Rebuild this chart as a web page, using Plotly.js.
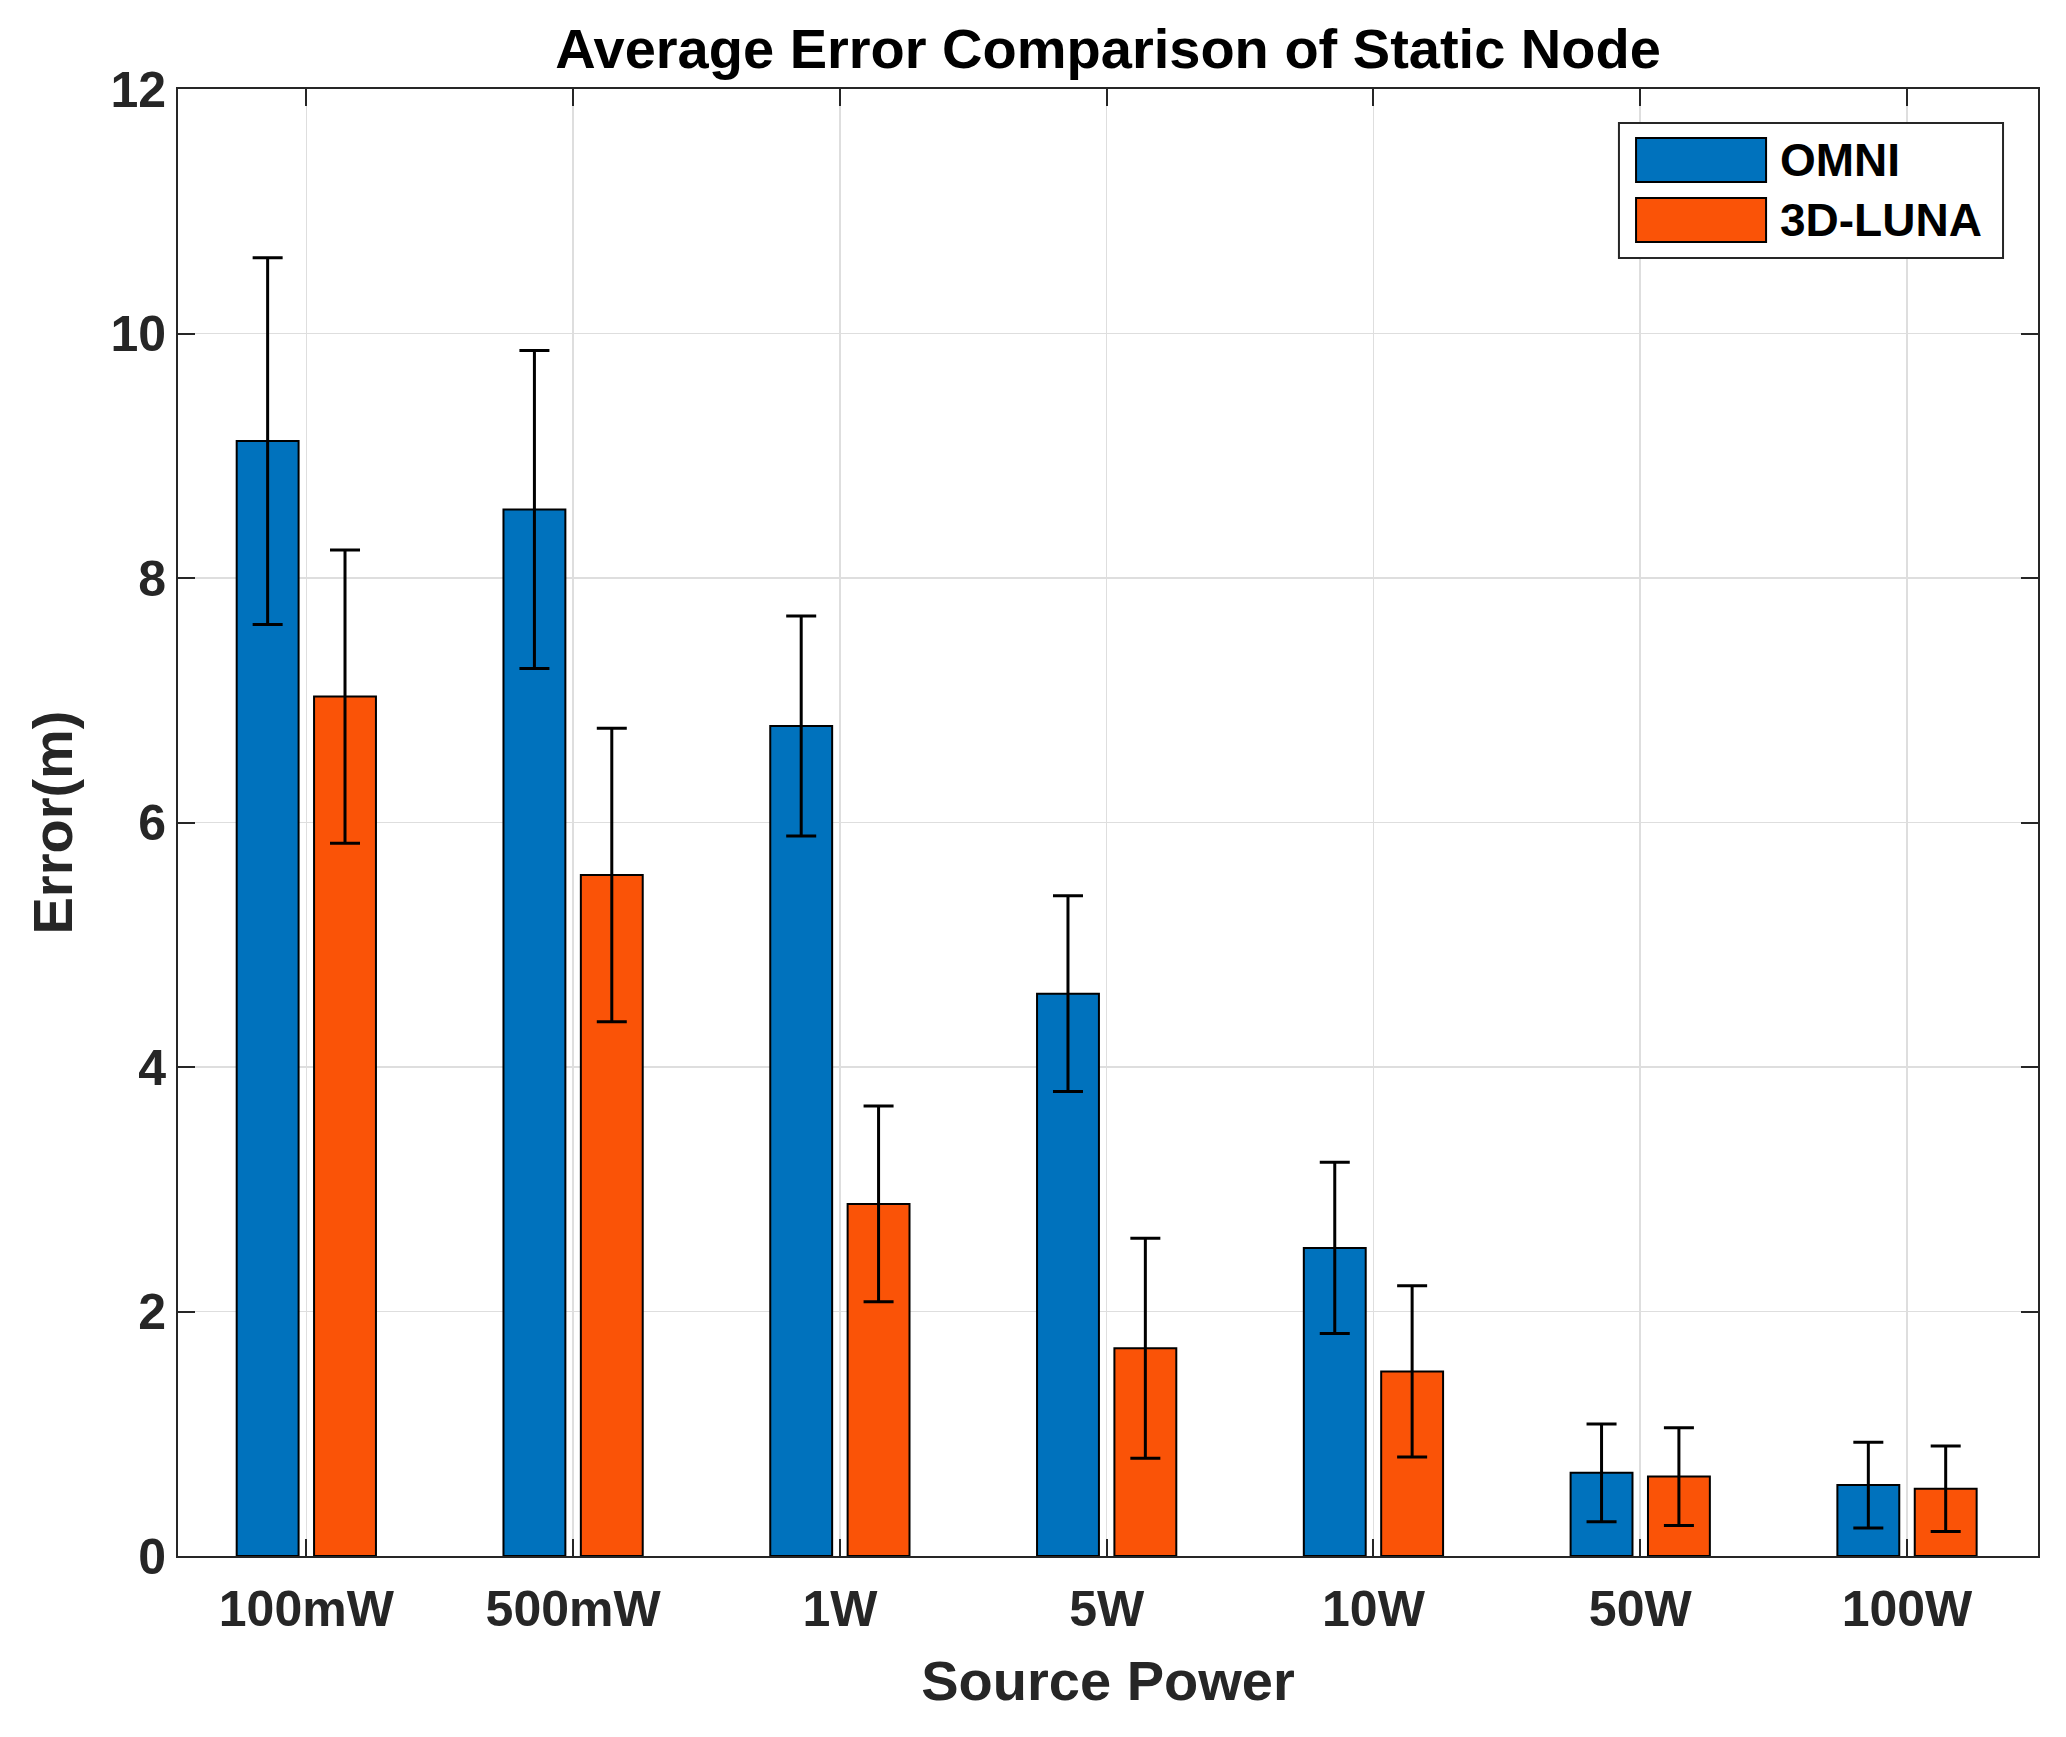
<!DOCTYPE html>
<html>
<head>
<meta charset="utf-8">
<script src="https://cdn.plot.ly/plotly-3.0.1.min.js"></script>
<style>html,body{margin:0;padding:0;background:#fff;}#chart{width:2066px;height:1737px;}</style>
</head>
<body>
<div id="chart"></div>
<script>
const categories = ["100mW", "500mW", "1W", "5W", "10W", "50W", "100W"];
const seriesNames = ["OMNI", "3D-LUNA"];
const omniError = [9.12, 8.56, 6.79, 4.60, 2.52, 0.68, 0.58];
const omniStd = [1.50, 1.30, 0.90, 0.80, 0.70, 0.40, 0.35];
const lunaError = [7.03, 5.57, 2.88, 1.70, 1.51, 0.65, 0.55];
const lunaStd = [1.20, 1.20, 0.80, 0.90, 0.70, 0.40, 0.35];
const yTicks = [0, 2, 4, 6, 8, 10, 12];

const colors = ["#0072BD", "#FA5307"];
const FONT = "Liberation Sans, Arial, Helvetica, sans-serif";
const txt = "#262626";

function barTrace(name, y, err, color) {
  return {
    type: "bar", name: name, x: categories, y: y,
    marker: {color: color, line: {color: "#000", width: 2}},
    error_y: {type: "data", array: err, visible: true, color: "#000", thickness: 3, width: 15},
    showlegend: false, hoverinfo: "x+y"
  };
}

const data = [
  barTrace(seriesNames[0], omniError, omniStd, colors[0]),
  barTrace(seriesNames[1], lunaError, lunaStd, colors[1])
];

const L = {x0: 0.7747, x1: 0.9812, y0: 0.8848, y1: 0.9768};
const sw = [{y0: 0.9366, y1: 0.9666}, {y0: 0.8957, y1: 0.9257}];

const layout = {
  width: 2066, height: 1737,
  margin: {l: 178, r: 28, t: 89, b: 181, pad: 0},
  paper_bgcolor: "#fff", plot_bgcolor: "#fff",
  barmode: "group", bargap: 0.42, bargroupgap: 0.2,
  font: {family: FONT, color: txt},
  title: {
    text: "<b>Average Error Comparison of Static Node</b>",
    font: {family: FONT, size: 56, color: "#000"},
    x: 0.5, xref: "paper", xanchor: "center",
    y: 1 - 48 / 1737, yref: "container", yanchor: "middle"
  },
  xaxis: {
    type: "category", range: [-0.481, 6.491],
    showline: true, linecolor: txt, linewidth: 2, mirror: "ticks",
    ticks: "inside", ticklen: 17, tickwidth: 2, tickcolor: txt,
    showgrid: true, gridcolor: "#dedede", gridwidth: 1.5,
    tickfont: {family: FONT, size: 50, color: txt},
    ticklabelstandoff: 8,
    ticktext: categories.map(c => "<b>" + c + "</b>"), tickvals: categories, tickmode: "array",
    title: {text: "<b>Source Power</b>", font: {family: FONT, size: 56, color: txt}, standoff: 25},
    zeroline: false, fixedrange: true
  },
  yaxis: {
    range: [0, 12], tickmode: "array", tickvals: yTicks,
    ticktext: yTicks.map(v => "<b>" + v + "</b>"),
    showline: true, linecolor: txt, linewidth: 2, mirror: "ticks",
    ticks: "inside", ticklen: 17, tickwidth: 2, tickcolor: txt,
    showgrid: true, gridcolor: "#dedede", gridwidth: 1.5,
    tickfont: {family: FONT, size: 50, color: txt},
    title: {text: "<b>Error(m)</b>", font: {family: FONT, size: 56, color: txt}, standoff: 20},
    zeroline: false, fixedrange: true
  },
  shapes: [
    {type: "rect", xref: "paper", yref: "paper", x0: L.x0, x1: L.x1, y0: L.y0, y1: L.y1,
     line: {color: txt, width: 2}, fillcolor: "#fff", layer: "above"},
    {type: "rect", xref: "paper", yref: "paper", x0: 0.7839, x1: 0.8538, y0: sw[0].y0, y1: sw[0].y1,
     line: {color: "#000", width: 2}, fillcolor: colors[0], layer: "above"},
    {type: "rect", xref: "paper", yref: "paper", x0: 0.7839, x1: 0.8538, y0: sw[1].y0, y1: sw[1].y1,
     line: {color: "#000", width: 2}, fillcolor: colors[1], layer: "above"}
  ],
  annotations: seriesNames.map((n, i) => ({
    xref: "paper", yref: "paper", x: 0.8602, y: (sw[i].y0 + sw[i].y1) / 2,
    xanchor: "left", yanchor: "middle", showarrow: false,
    text: "<b>" + n + "</b>", font: {family: FONT, size: 46, color: "#000"}
  }))
};

Plotly.newPlot("chart", data, layout, {displayModeBar: false, staticPlot: true});
</script>
</body>
</html>
